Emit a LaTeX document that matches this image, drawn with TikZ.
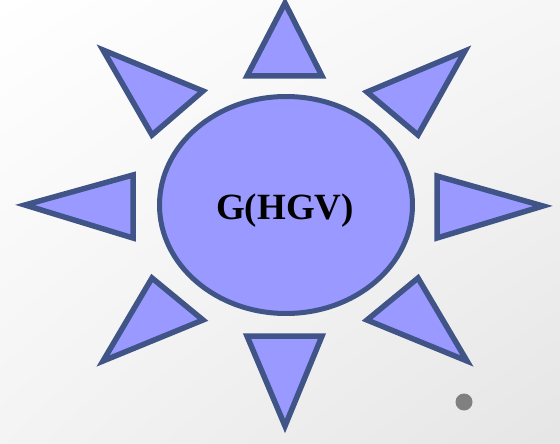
\documentclass[tikz,border=0pt]{standalone}
\usepackage{fontspec}
\setmainfont{Liberation Serif}
\usetikzlibrary{shapes.geometric,shadings}
\definecolor{rayfill}{RGB}{153,153,255}
\definecolor{raydraw}{RGB}{64,84,135}
\definecolor{dotgray}{RGB}{128,128,128}
\begin{document}
\begin{tikzpicture}[x=1pt,y=-1pt,
  ray/.style={fill=rayfill,draw=raydraw,line width=5.5pt,line join=miter},
  core/.style={ellipse,fill=rayfill,draw=raydraw,line width=5pt,inner sep=0pt,minimum width=253pt,minimum height=217pt},
  corelabel/.style={anchor=base,inner sep=0pt,font=\bfseries\fontsize{37}{40}\selectfont}]
\useasboundingbox (0,0) rectangle (560,444);
\shade[upper left=white, upper right=gray!7, lower left=gray!9, lower right=gray!20] (0,0) rectangle (560,444);
% rays
\draw[ray] (285,3) -- (322,76) -- (247,76) -- cycle;
\draw[ray] (285,426) -- (322,336) -- (247,336) -- cycle;
\draw[ray] (25,205) -- (133,175) -- (133,238) -- cycle;
\draw[ray] (543,206) -- (437,176) -- (437,238) -- cycle;
\draw[ray] (103,50) -- (203,91) -- (152,135) -- cycle;
\draw[ray] (465,51) -- (367,92) -- (418,135) -- cycle;
\draw[ray] (103,361) -- (203,320) -- (152,278) -- cycle;
\draw[ray] (467,361) -- (367,320) -- (418,278) -- cycle;
% centre
\node[core] (sun) at (286,205) {};
\node[corelabel] (label) at (285,219) {G(HGV)};
% dot
\fill[dotgray] (464,402) circle (8.5);
\end{tikzpicture}
\end{document}
